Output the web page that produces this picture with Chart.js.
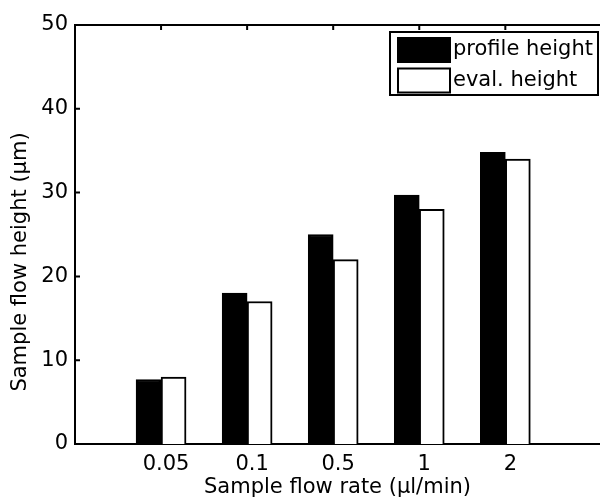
<!DOCTYPE html>
<html>
<head>
<meta charset="utf-8">
<script src="https://cdn.jsdelivr.net/npm/chart.js@4/dist/chart.umd.min.js"></script>
<style>
    html, body { margin: 0; padding: 0; background: #fff; }
    #wrap { width: 600px; height: 500px; }
</style>
</head>
<body>
<div id="wrap"><canvas id="bar-chart" width="600" height="500"></canvas></div>
<script>
// values
const flowRates = ['0.05', '0.1', '0.5', '1', '2'];
const profileHeight = [7.7, 18.0, 25.0, 29.7, 34.8];
const evalHeight = [8.0, 17.0, 22.0, 28.0, 34.0];
const yTicks = [0, 10, 20, 30, 40, 50];
const xTitle = 'Sample flow rate (µl/min)';
const yTitle = 'Sample flow height (µm)';

const FONT = '"DejaVu Sans", Arial, Helvetica, sans-serif';
const FONT_SIZE = 21;

// bars sit on a linear x axis at 1..n, like matlab's bar()
function toPoints(values) {
    return values.map((v, i) => ({x: i + 1, y: v}));
}

// matlab-ish frame: top line + inward ticks, y title, legend box in the corner
const frame = {
    id: 'frame',
    afterDatasetsDraw(chart) {
        const ctx = chart.ctx;
        const area = chart.chartArea;
        const xs = chart.scales.x;
        const ys = chart.scales.y;
        ctx.save();
        ctx.strokeStyle = '#000';
        ctx.lineWidth = 2;
        ctx.beginPath();
        ctx.moveTo(area.left, area.top);
        ctx.lineTo(area.right, area.top);
        // left axis ticks (pointing in)
        for (const v of yTicks) {
            const py = ys.getPixelForValue(v);
            ctx.moveTo(area.left, py);
            ctx.lineTo(area.left + 5, py);
        }
        // top axis ticks (pointing down)
        for (let i = 0; i < flowRates.length; i++) {
            const px = xs.getPixelForValue(i + 1);
            ctx.moveTo(px, area.top);
            ctx.lineTo(px, area.top + 5);
        }
        ctx.stroke();

        ctx.font = FONT_SIZE + 'px ' + FONT;
        ctx.fillStyle = '#000';

        // y title sits a bit below the middle in the original
        ctx.save();
        ctx.translate(21, 262);
        ctx.rotate(-Math.PI / 2);
        ctx.textAlign = 'center';
        ctx.textBaseline = 'middle';
        ctx.fillText(yTitle, 0, 0);
        ctx.restore();

        // legend
        const box = {left: 390, top: 32, right: 598, bottom: 95};
        ctx.fillStyle = '#fff';
        ctx.fillRect(box.left, box.top, box.right - box.left, box.bottom - box.top);
        ctx.strokeRect(box.left, box.top, box.right - box.left, box.bottom - box.top);
        chart.data.datasets.forEach((ds, i) => {
            const top = 38 + i * 30.5;
            ctx.fillStyle = ds.backgroundColor;
            ctx.fillRect(398, top, 52, 24);
            ctx.strokeRect(398, top, 52, 24);
            ctx.fillStyle = '#000';
            ctx.textBaseline = 'middle';
            ctx.textAlign = 'left';
            ctx.fillText(ds.label, 453, top + 12);
        });
        ctx.restore();
    }
};

const options = {
    type: 'bar',
    data: {
        datasets: [
            {
                label: 'profile height',
                data: toPoints(profileHeight),
                backgroundColor: '#000',
                borderColor: '#000',
                borderWidth: 2,
                barThickness: 25,
            },
            {
                label: 'eval. height',
                data: toPoints(evalHeight),
                backgroundColor: '#fff',
                borderColor: '#000',
                borderWidth: 2,
                barThickness: 25,
            },
        ],
    },
    options: {
        responsive: false,
        animation: false,
        layout: {padding: {top: 25, left: 0, right: 0, bottom: 0}},
        plugins: {
            legend: {display: false},
            tooltip: {enabled: false},
        },
        scales: {
            x: {
                type: 'linear',
                min: 0,
                max: 6.1,
                offset: false,
                grid: {display: false, drawTicks: false},
                border: {display: true, color: '#000', width: 2},
                afterBuildTicks: (scale) => {
                    scale.ticks = flowRates.map((_, i) => ({value: i + 1}));
                },
                afterFit: (scale) => {
                    scale.height = 56;
                },
                ticks: {
                    color: '#000',
                    font: {family: FONT, size: FONT_SIZE},
                    padding: 8,
                    labelOffset: 5,
                    autoSkip: false,
                    maxRotation: 0,
                    callback: (value) => flowRates[value - 1] ?? '',
                },
                title: {
                    display: true,
                    text: xTitle,
                    color: '#000',
                    font: {family: FONT, size: FONT_SIZE},
                    padding: {top: 0, bottom: 0},
                },
            },
            y: {
                min: 0,
                max: 50,
                grid: {display: false, drawTicks: false},
                border: {display: true, color: '#000', width: 2},
                afterBuildTicks: (scale) => {
                    scale.ticks = yTicks.map((v) => ({value: v}));
                },
                afterFit: (scale) => {
                    scale.width = 75;
                },
                ticks: {
                    color: '#000',
                    font: {family: FONT, size: FONT_SIZE},
                    padding: 7,
                },
            },
        },
    },
    plugins: [frame],
};

new Chart(document.querySelector('#bar-chart'), options);
</script>
</body>
</html>
